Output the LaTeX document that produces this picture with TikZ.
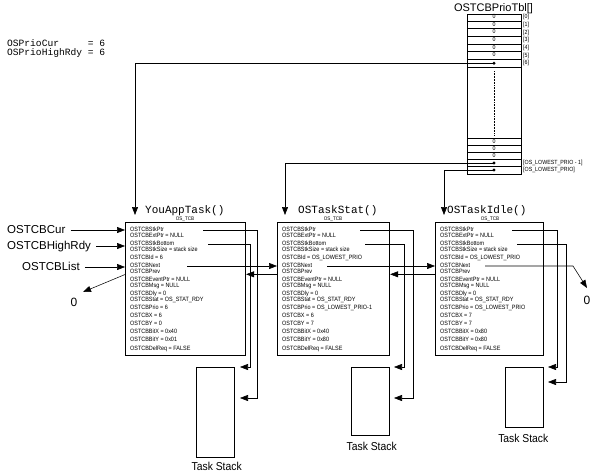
\documentclass[tikz,border=0pt]{standalone}
\usepackage{fontspec}
\setmainfont{Liberation Sans}
\newfontfamily\narrowsf[FakeStretch=0.88]{Liberation Sans}
\newfontfamily\condsf[FakeStretch=0.9]{Liberation Sans}
\newfontfamily\monofam{Liberation Mono}
\usetikzlibrary{arrows.meta}
\tikzset{
  fld/.style={font=\narrowsf\fontsize{6.2}{6.2}\selectfont, anchor=west, inner sep=0pt, text height=4.4pt, text depth=1.2pt},
  small/.style={font=\narrowsf\fontsize{6}{6}\selectfont, inner sep=0pt},
  tcbbox/.style={draw, line width=1.1pt, anchor=north west, inner sep=0pt, minimum height=133pt},
  stackbox/.style={draw, line width=0.7pt, anchor=north west, inner sep=0pt, minimum width=38pt},
  tblbox/.style={draw, line width=0.6pt, anchor=north west, inner sep=0pt},
  rowline/.style={line width=0.6pt},
  link/.style={line width=0.55pt},
  tip/.style={-{Triangle[length=8pt,width=6pt]}},
  ttl/.style={font=\monofam\fontsize{11}{11}\selectfont, anchor=base west, inner sep=0pt},
  prio/.style={font=\monofam\fontsize{9.6}{9.6}\selectfont, anchor=base west, inner sep=0pt, text height=6.3pt, text depth=2pt},
  lbl/.style={font=\fontsize{11.5}{11.5}\selectfont, anchor=west, inner sep=0pt, text height=8.3pt, text depth=2pt},
  stacklbl/.style={font=\condsf\fontsize{11.5}{11.5}\selectfont, inner sep=0pt},
  nil/.style={font=\fontsize{12}{12}\selectfont, inner sep=0pt},
  osl/.style={font=\narrowsf\fontsize{5.2}{5.2}\selectfont, anchor=base, inner sep=0pt},
  dot/.style={circle, fill, inner sep=0pt, minimum size=3.2pt},
}
\newcommand\tcbfields[8]{%
  \node[fld] (#1-stk)  at (#2,230)   {OSTCBStkPtr};
  \node[fld] (#1-ext)  at (#2,235.5) {OSTCBExtPtr = NULL};
  \node[fld] (#1-bot)  at (#2,244)   {OSTCBStkBottom};
  \node[fld] (#1-siz)  at (#2,249.5) {OSTCBStkSize = stack size};
  \node[fld] (#1-id)   at (#2,257.5) {OSTCBId = #3};
  \node[fld] (#1-next) at (#2,266)   {OSTCBNext};
  \node[fld] (#1-prev) at (#2,271.5) {OSTCBPrev};
  \node[fld] (#1-evt)  at (#2,280)   {OSTCBEventPtr = NULL};
  \node[fld] (#1-msg)  at (#2,285.5) {OSTCBMsg = NULL};
  \node[fld] (#1-dly)  at (#2,294)   {OSTCBDly = 0};
  \node[fld] (#1-stat) at (#2,299.5) {OSTCBStat = OS\_STAT\_RDY};
  \node[fld] (#1-prio) at (#2,307.5) {OSTCBPrio = #4};
  \node[fld] (#1-x)    at (#2,315.5) {OSTCBX = #5};
  \node[fld] (#1-y)    at (#2,323.5) {OSTCBY = #6};
  \node[fld] (#1-bx)   at (#2,332)   {OSTCBBitX = #7};
  \node[fld] (#1-by)   at (#2,340)   {OSTCBBitY = #8};
  \node[fld] (#1-del)  at (#2,348.5) {OSTCBDelReq = FALSE};
}
\begin{document}
\begin{tikzpicture}[x=1pt,y=-1pt]
\useasboundingbox (0,0) rectangle (600,472);

% ---- priority variables
\node[prio] (pcur) at (7,46.5) {OSPrioCur\ \ \ \ \ = 6};
\node[prio] (phigh) at (7,55.2) {OSPrioHighRdy = 6};

% ---- OSTCBPrioTbl
\node[font=\fontsize{11}{11}\selectfont, anchor=base, inner sep=0pt] (tbltitle) at (493.5,11.8) {OSTCBPrioTbl[]};
\node[tblbox, minimum width=54pt, minimum height=160pt] (tbl) at (467,13.5) {};
\foreach \yy in {21.14,28.78,36.42,44.06,51.7,59.34,66.98,138.5,145.5,152.5,159.5,166.5}
  \draw[rowline] (tbl.west |- 0,\yy) -- (tbl.east |- 0,\yy);
\foreach \yy/\ix in {17.3/0,25/1,32.6/2,40.2/3,47.9/4,55.5/5,63.2/6}
  \node[small, anchor=west] (idx\ix) at (523,\yy) {[\ix]};
\foreach \yy/\ix in {17.3/0,25/1,32.6/2,40.2/3,47.9/4,55.5/5}
  \node[small] (z\ix) at (494,\yy-0.8) {0};
\foreach \yy/\ix in {142/a,149/b,156/c}
  \node[small] (zz\ix) at (494,\yy-0.8) {0};
\node[dot] (d6) at (494,63.2) {};
\node[dot] (dl1) at (494,163) {};
\node[dot] (dl) at (494,170) {};
\node[small, anchor=west] (idxl1) at (523,163) {[OS\_LOWEST\_PRIO - 1]};
\node[small, anchor=west] (idxl) at (523,170) {[OS\_LOWEST\_PRIO]};
\draw[link, densely dotted] (494,71) -- (494,135);

% ---- TCB boxes
\node[tcbbox, minimum width=120pt] (tcbA) at (125,222) {};
\node[tcbbox, minimum width=112pt] (tcbB) at (277,222) {};
\node[tcbbox, minimum width=108pt] (tcbC) at (435,222) {};
\node[ttl] (ttlA) at (145,213.8) {YouAppTask()};
\node[ttl] (ttlB) at (298,213.8) {OSTaskStat()};
\node[ttl] (ttlC) at (447,213.8) {OSTaskIdle()};
\node[osl] (osA) at (185,220.6) {OS\_TCB};
\node[osl] (osB) at (333,220.6) {OS\_TCB};
\node[osl] (osC) at (490,220.6) {OS\_TCB};
\tcbfields{a}{130}{6}{6}{6}{0}{0x40}{0x01}
\tcbfields{b}{282}{OS\_LOWEST\_PRIO}{OS\_LOWEST\_PRIO-1}{6}{7}{0x40}{0x80}
\tcbfields{c}{440}{OS\_LOWEST\_PRIO}{OS\_LOWEST\_PRIO}{7}{7}{0x80}{0x80}

% ---- entries from the priority table
\coordinate (a-in) at (135,215);
\coordinate (b-in) at (285,215);
\coordinate (c-in) at (444,215);
\draw[link,tip] (d6.center) -| (a-in);
\draw[link,tip] (dl1.center) -| (b-in);
\draw[link,tip] (dl.center) -| (c-in);

% ---- global pointers
\node[lbl] (lcur) at (7,230) {OSTCBCur};
\node[lbl] (lhigh) at (7,246) {OSTCBHighRdy};
\node[lbl] (llist) at (22,267) {OSTCBList};
\draw[link,tip] ([xshift=5pt]lcur.east) -- (tcbA.west |- lcur.east);
\draw[link,tip] ([xshift=5pt]lhigh.east) -- (tcbA.west |- lhigh.east);
\draw[link,tip] ([xshift=5pt]llist.east) -- (tcbA.west |- llist.east);

% ---- stacks
\node[stackbox, minimum height=90pt] (sA) at (196,367) {};
\node[stackbox, minimum height=68pt] (sB) at (351,367) {};
\node[stackbox, minimum height=60pt] (sC) at (505,367) {};
\node[stacklbl] (tsA) at (216.7,466.5) {Task Stack};
\node[stacklbl] (tsB) at (371.7,446.5) {Task Stack};
\node[stacklbl] (tsC) at (523.3,438.3) {Task Stack};
\coordinate (a-sp) at (240,398);
\coordinate (a-sb) at (240,367);
\coordinate (b-sp) at (394,398);
\coordinate (b-sb) at (394,367);
\coordinate (c-sp) at (548,367);
\coordinate (c-sb) at (548,382);
\draw[link,tip] ([xshift=73pt]a-stk.west) -| (257,398) -- (a-sp);
\draw[link,tip] ([xshift=78pt]a-bot.west) -| (250,367) -- (a-sb);
\draw[link,tip] ([xshift=78pt]b-stk.west) -| (413,398) -- (b-sp);
\draw[link,tip] ([xshift=83pt]b-bot.west) -| (404.5,367) -- (b-sb);
\draw[link,tip] ([xshift=72pt]c-stk.west) -| (557,367) -- (c-sp);
\draw[link,tip] ([xshift=77pt]c-bot.west) -| (566,382) -- (c-sb);

% ---- next / prev links
\node[nil] (a-nil) at (74,302) {0};
\node[nil] (c-nil) at (587,300) {0};
\coordinate (a-nilin) at (83,292);
\coordinate (c-nilin) at (587,288);
\coordinate (a-pv) at ([yshift=-3pt]a-prev.west);
\coordinate (b-pv) at ([yshift=-2.8pt]b-prev.west);
\coordinate (c-pv) at ([yshift=-2.8pt]c-prev.west);
\draw[link,tip] ([xshift=57pt]a-next.west) -- (tcbB.west |- a-next.west);
\draw[link,tip] ([xshift=45pt]b-next.west) -- (tcbC.west |- b-next.west);
\draw[link,tip] ([xshift=45pt]c-next.west) -- (573,266) -- (c-nilin);
\draw[link,tip] (tcbB.west |- b-pv) -- (tcbA.east |- b-pv);
\draw[link,tip] (tcbC.west |- c-pv) -- (tcbB.east |- c-pv);
\draw[link,tip] (tcbA.west |- a-pv) -- (a-nilin);
\end{tikzpicture}
\end{document}
